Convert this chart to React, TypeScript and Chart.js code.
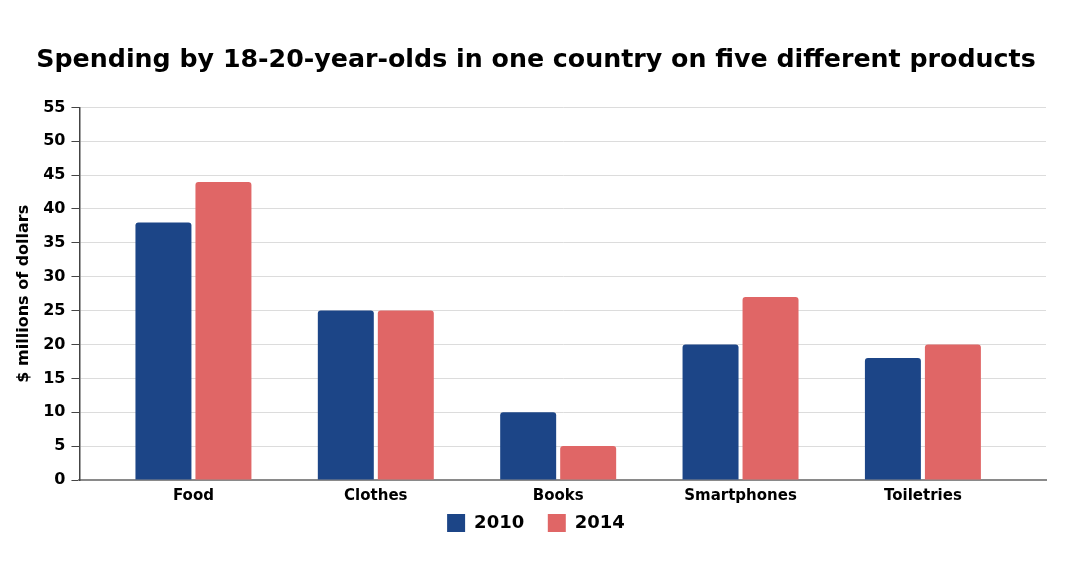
import { useEffect, useRef } from "react";
import { Chart, registerables } from "chart.js";

Chart.register(...registerables);

const categories = ["Food", "Clothes", "Books", "Smartphones", "Toiletries"];
const years = ["2010", "2014"];
const spending2010 = [38, 25, 10, 20, 18];
const spending2014 = [44, 25, 5, 27, 20];
const colors = ["#1c4587", "#e06666"];

const FONT = "'DejaVu Sans', Verdana, sans-serif";

const App = () => {
  const canvasRef = useRef<HTMLCanvasElement | null>(null);
  const chartRef = useRef<Chart | null>(null);

  useEffect(() => {
    document.body.style.margin = "0";
    if (!canvasRef.current) return;
    if (chartRef.current) chartRef.current.destroy();

    const series = [spending2010, spending2014];

    chartRef.current = new Chart(canvasRef.current, {
      type: "bar",
      data: {
        datasets: years.map((y, k) => ({
          label: y,
          data: series[k].map((v, i) => ({ x: i, y: v })),
          backgroundColor: colors[k],
          borderRadius: 3,
          borderSkipped: "bottom",
          categoryPercentage: 0.658,
          barPercentage: 0.933,
        })),
      },
      options: {
        responsive: true,
        maintainAspectRatio: false,
        animation: false,
        layout: { padding: { left: 14, right: 22, bottom: 44 } },
        plugins: {
          title: {
            display: true,
            text: "Spending by 18-20-year-olds in one country on five different products",
            color: "#000",
            font: { family: FONT, size: 25.3, weight: "bold" },
            padding: { top: 45, bottom: 32 },
          },
          legend: {
            position: "bottom",
            labels: {
              color: "#000",
              font: { family: FONT, size: 18, weight: "bold" },
              boxWidth: 18,
              boxHeight: 18,
              padding: 2,
              // extra room between the two legend items
              generateLabels: (chart) => {
                const items = Chart.defaults.plugins.legend.labels.generateLabels(chart);
                return items.map((it, i) =>
                  i < items.length - 1 ? { ...it, text: it.text + "\u2003\u2009" } : it
                );
              },
            },
          },
          tooltip: { enabled: false },
        },
        scales: {
          x: {
            type: "linear",
            offset: false,
            min: -0.625,
            max: 4.675,
            afterBuildTicks: (s) => {
              s.ticks = categories.map((_, i) => ({ value: i }));
            },
            grid: { display: false, drawTicks: false },
            border: { color: "#8a8a8a", width: 2 },
            ticks: {
              color: "#000",
              font: { family: FONT, size: 15, weight: "bold" },
              callback: (v) => categories[Number(v)] ?? "",
              padding: 7,
              maxRotation: 0,
            },
          },
          y: {
            min: 0,
            max: 55,
            ticks: {
              stepSize: 5,
              color: "#000",
              font: { family: FONT, size: 16, weight: "bold" },
              padding: 6,
            },
            grid: { color: "#dcdcdc", tickColor: "#444", tickLength: 8 },
            border: { color: "#444", width: 1.5 },
            title: {
              display: true,
              text: "$ millions of dollars",
              color: "#000",
              font: { family: FONT, size: 16, weight: "bold" },
              padding: { top: 0, bottom: 4 },
            },
          },
          // empty spacer on the right so title and legend sit centred like the original
          spacer: {
            type: "linear",
            position: "right",
            grid: { display: false, drawTicks: false },
            border: { display: false },
            ticks: { display: false },
            afterFit: (s) => {
              s.width = 12;
            },
          },
        },
      },
    });

    return () => {
      if (chartRef.current) {
        chartRef.current.destroy();
        chartRef.current = null;
      }
    };
  }, []);

  return (
    <div style={{ width: "1080px", height: "586px", background: "#fff" }}>
      <canvas ref={canvasRef} />
    </div>
  );
};

export default App;
